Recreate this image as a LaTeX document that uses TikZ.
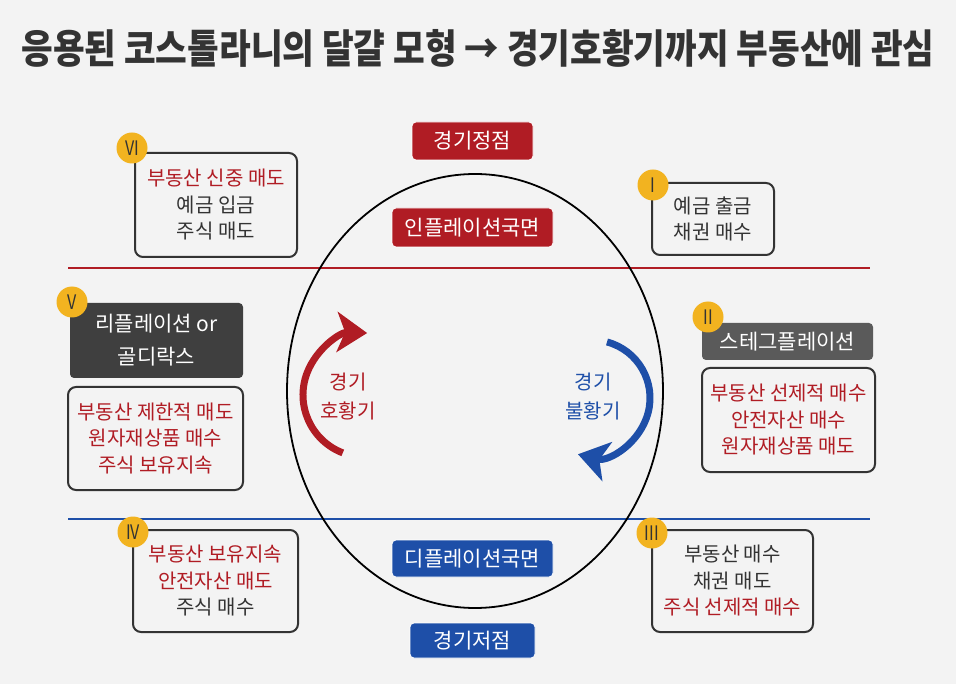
\documentclass[tikz,border=0pt]{standalone}
\usepackage{fontspec}
\setmainfont{Noto Sans CJK KR}
\usetikzlibrary{arrows.meta,shapes.geometric}
\definecolor{bg}{HTML}{F3F3F3}
\definecolor{kred}{HTML}{B01C24}
\definecolor{kblue}{HTML}{1E4FA8}
\definecolor{ktxt}{HTML}{333333}
\definecolor{kdark}{HTML}{3F3F3F}
\definecolor{kgray}{HTML}{5A5A5A}
\definecolor{kgold}{HTML}{F2B320}
\tikzset{
  infobox/.style={draw=ktxt, line width=2pt, rounded corners=8pt, fill=bg,
    align=center, text=ktxt, font=\fontsize{20}{26.5}\selectfont, inner sep=0pt},
  darkbox/.style={fill=kdark, rounded corners=4pt, align=center, text=white,
    font=\fontsize{21}{33}\selectfont, inner sep=0pt},
  tagbox/.style={rounded corners=4pt, text=white, font=\fontsize{21}{22}\selectfont,
    inner sep=0pt, draw=white, line width=0.8pt},
  badge/.style={circle, fill=kgold, minimum size=31pt, inner sep=0pt,
    text=ktxt, font=\fontsize{20}{20}\selectfont},
  sepline/.style={line width=2.8pt},
  cyc/.style={line width=7pt},
}
\begin{document}
\begin{tikzpicture}[x=1pt,y=-1pt]
\fill[bg] (0,0) rectangle (956,684);
\useasboundingbox (0,0) rectangle (956,684);

% title
\node (title) at (478,48) {\scalebox{1.076}[1.25]{\fontsize{32}{34}\selectfont\bfseries\color{ktxt}응용된 코스톨라니의 달걀 모형 → 경기호황기까지 부동산에 관심}};

% separator lines
\coordinate (rl1) at (68,268); \coordinate (rl2) at (870,268);
\coordinate (bl1) at (68,519); \coordinate (bl2) at (870,519);
\draw[sepline, kred] (rl1) -- (rl2);
\draw[sepline, kblue] (bl1) -- (bl2);

% egg
\node[draw=black, line width=1.8pt, ellipse, minimum width=376pt, minimum height=434pt, inner sep=0pt] (egg) at (475,391) {};

% cycle arrows
\coordinate (rc) at (365,395);
\coordinate (bc) at (592,398);
\draw[cyc, kred, -{Stealth[width=40pt,length=30pt,inset=8pt]}] (rc) ++(111:62) arc[start angle=111, end angle=272, radius=62];
\draw[cyc, kblue, -{Stealth[width=40pt,length=30pt,inset=8pt]}] (bc) ++(-75:58) arc[start angle=-75, end angle=104, radius=58];
\node[text=kred, align=center, font=\fontsize{20}{29}\selectfont] (boom) at (348,397) {경기\\호황기};
\node[text=kblue, align=center, font=\fontsize{20}{29}\selectfont] (bust) at (593,397) {경기\\불황기};

% central tags
\node[tagbox, fill=kred, minimum width=121pt, minimum height=38pt] (peak) at (472.5,141) {경기정점};
\node[tagbox, fill=kred, minimum width=161pt, minimum height=39pt] (infl) at (472.5,227.5) {인플레이션국면};
\node[tagbox, fill=kblue, minimum width=161pt, minimum height=37pt] (defl) at (472.5,558.5) {디플레이션국면};
\node[tagbox, fill=kblue, minimum width=125pt, minimum height=35pt] (trough) at (472.5,640.5) {경기저점};

% VI
\node[infobox, minimum width=162pt, minimum height=104pt] (b6) at (216,205) {\textcolor{kred}{부동산 신중 매도}\\예금 입금\\주식 매도};
\node[badge] (n6) at (132,148) {\scalebox{0.8}[1]{VI}};

% I
\node[infobox, minimum width=122pt, minimum height=72pt] (b1) at (713,219) {예금 출금\\채권 매수};
\node[badge] (n1) at (653,185) {\scalebox{0.8}[1]{I}};

% V
\node[darkbox, fill=kdark, minimum width=173pt, minimum height=75pt] (d5) at (156.5,340.5) {리플레이션 or\\골디락스};
\node[infobox, minimum width=175pt, minimum height=103pt, text=kred] (b5) at (155.5,438.5) {부동산 제한적 매도\\원자재상품 매수\\주식 보유지속};
\node[badge] (n5) at (72,302) {\scalebox{0.8}[1]{V}};

% II
\node[darkbox, fill=kgray, minimum width=171pt, minimum height=37pt] (d2) at (787.5,341.5) {스테그플레이션};
\node[infobox, minimum width=173pt, minimum height=104pt, text=kred] (b2) at (788.5,420) {부동산 선제적 매수\\안전자산 매수\\원자재상품 매도};
\node[badge] (n2) at (708,317) {\scalebox{0.8}[1]{II}};

% IV
\node[infobox, minimum width=165pt, minimum height=102pt] (b4) at (215.5,581) {\textcolor{kred}{부동산 보유지속}\\\textcolor{kred}{안전자산 매도}\\주식 매수};
\node[badge] (n4) at (133,532) {\scalebox{0.8}[1]{IV}};

% III
\node[infobox, minimum width=161pt, minimum height=102pt] (b3) at (732.5,581) {부동산 매수\\채권 매도\\\textcolor{kred}{주식 선제적 매수}};
\node[badge] (n3) at (652,533) {\scalebox{0.8}[1]{III}};
\end{tikzpicture}
\end{document}
